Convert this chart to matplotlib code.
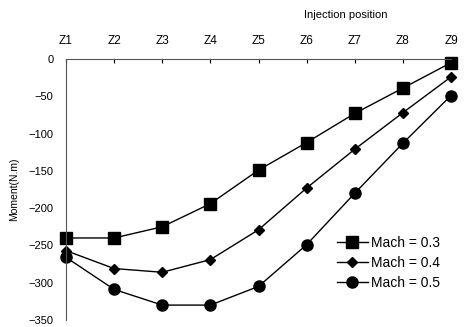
import numpy as np
import matplotlib.pyplot as plt

plt.rcParams['font.family'] = ['Liberation Sans', 'DejaVu Sans']

positions = ['Z1', 'Z2', 'Z3', 'Z4', 'Z5', 'Z6', 'Z7', 'Z8', 'Z9']
mach03 = [-240, -240, -225, -194, -149, -112, -73, -39, -5]
mach04 = [-257, -281, -286, -269, -229, -173, -121, -72, -24]
mach05 = [-266, -309, -330, -330, -305, -249, -180, -113, -49]

fig = plt.figure(figsize=(4.65, 3.27), dpi=100)
ax = fig.add_axes([66/465, 1-320/327, (451-66)/465, (320-59)/327])

x = np.arange(1, len(positions)+1)
ax.plot(x, mach03, 'k-', marker='s', ms=8, lw=1, clip_on=False, label='Mach = 0.3')
ax.plot(x, mach04, 'k-', marker='D', ms=5.5, lw=1, clip_on=False, label='Mach = 0.4')
ax.plot(x, mach05, 'k-', marker='o', ms=8, lw=1, clip_on=False, label='Mach = 0.5')

ax.set_xlim(1, 9)
ax.set_ylim(-350, 0)
ax.xaxis.tick_top()
ax.set_xticks(x)
ax.set_xticklabels(positions)
ax.set_yticks(np.arange(-350, 1, 50))
ax.tick_params(axis='x', direction='in', length=3, pad=9, labelsize=8.5)
ax.tick_params(axis='y', length=0, pad=9, labelsize=8)

ax.spines['bottom'].set_visible(False)
ax.spines['right'].set_visible(False)
for s in ['top', 'left']:
    ax.spines[s].set_color('#555555')
    ax.spines[s].set_linewidth(0.8)

ax.set_ylabel('Moment(N.m)', fontsize=7.5, labelpad=7)
fig.text(346/465, 1-15/327, 'Injection position', fontsize=8, ha='center', va='center')

ax.legend(loc='upper left', bbox_to_anchor=(0.69, 0.345), frameon=False,
          fontsize=10, handlelength=2.2, handletextpad=0.2, labelspacing=0.45,
          borderaxespad=0)

fig.savefig('out.png', dpi=100)
